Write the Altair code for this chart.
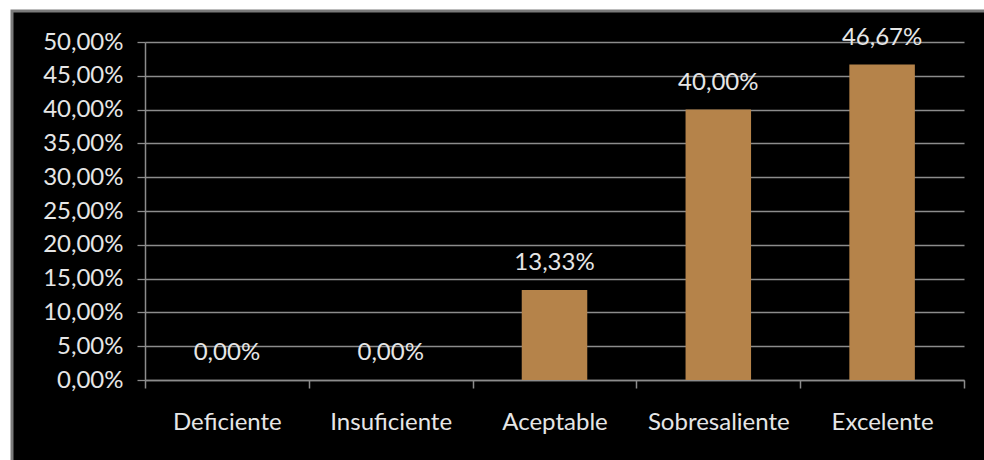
import altair as alt
import pandas as pd

categories = ["Deficiente", "Insuficiente", "Aceptable", "Sobresaliente", "Excelente"]
values = [0.0, 0.0, 0.1333, 0.40, 0.4667]
y_ticks = [0.0, 0.05, 0.10, 0.15, 0.20, 0.25, 0.30, 0.35, 0.40, 0.45, 0.50]

df = pd.DataFrame({"categoria": categories, "valor": values})

FONT = "Lato"
FS = 24
TXT = "#e6e6e6"
GRID = "#8c8c8c"
BAR = "#B5834A"

x_enc = alt.X(
    "categoria:N",
    sort=categories,
    title=None,
    scale=alt.Scale(paddingInner=0, paddingOuter=0),
    axis=alt.Axis(
        labelAngle=0, labelFont=FONT, labelFontSize=FS, labelColor=TXT,
        labelPadding=22, domainColor=GRID, tickColor=GRID, tickSize=8,
        tickBand="extent", grid=False, domainWidth=1.5, tickWidth=1.5,
    ),
)
y_enc = alt.Y(
    "valor:Q",
    title=None,
    scale=alt.Scale(domain=[0, 0.5], nice=False),
    axis=alt.Axis(
        values=y_ticks,
        labelExpr="replace(format(datum.value, '.2%'), '.', ',')",
        labelFont=FONT, labelFontSize=FS, labelColor=TXT, labelPadding=14,
        labelOverlap=False,
        domainColor=GRID, tickColor=GRID, tickSize=8, tickWidth=1.3,
        gridColor=GRID, gridWidth=1.3, domainWidth=1.5,
    ),
)

one = pd.DataFrame({"a": [0]})
white_left = alt.Chart(one).mark_rect(fill="#ffffff").encode(
    x=alt.value(-150), x2=alt.value(-134),
    y=alt.value(-50), y2=alt.value(500),
)
white_top = alt.Chart(one).mark_rect(fill="#ffffff").encode(
    x=alt.value(-150), x2=alt.value(900),
    y=alt.value(-50), y2=alt.value(-31),
)
border = alt.Chart(one).mark_rect(
    fill=None, stroke="#7a7a7a", strokeWidth=3
).encode(
    x=alt.value(-133), x2=alt.value(900),
    y=alt.value(-31), y2=alt.value(500),
)

bars = alt.Chart(df).mark_bar(color=BAR, width=alt.RelativeBandSize(0.4)).encode(
    x=x_enc, y=y_enc
)

labels = alt.Chart(df).transform_calculate(
    etiqueta="replace(format(datum.valor, '.2%'), '.', ',')"
).mark_text(
    font=FONT, fontSize=FS, color=TXT, baseline="alphabetic", dy=-20
).encode(
    x=x_enc,
    y=y_enc,
    text="etiqueta:N",
)

chart = alt.layer(bars, labels, white_left, white_top, border).properties(
    width=819, height=338,
    background="#000000",
    padding={"left": 145, "top": 42, "right": 20, "bottom": 80},
    autosize=alt.AutoSizeParams(type="none"),
).configure_view(stroke=None)

chart.save("out.html", embed_options={"renderer": "svg", "actions": False})
